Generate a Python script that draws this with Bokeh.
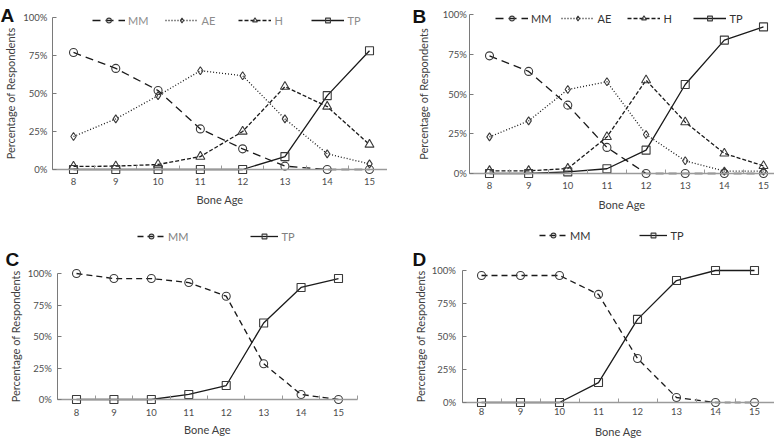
from bokeh.plotting import figure
from bokeh.models import Range1d, FixedTicker, NumeralTickFormatter, Legend, LegendItem, Label
from bokeh.layouts import column, row
from bokeh.embed import file_html
from bokeh.resources import INLINE

# ---------------- data ----------------
bone_age = [8, 9, 10, 11, 12, 13, 14, 15]
y_ticks = [0, 0.25, 0.5, 0.75, 1.0]
x_minor = [7.5, 8.5, 9.5, 10.5, 11.5, 12.5, 13.5, 14.5, 15.5]

a_mm = [0.77, 0.665, 0.52, 0.267, 0.136, 0.022, 0.0, 0.0]
a_ae = [0.217, 0.333, 0.486, 0.65, 0.617, 0.333, 0.103, 0.037]
a_h = [0.02, 0.022, 0.033, 0.085, 0.25, 0.545, 0.414, 0.164]
a_tp = [0.0, 0.0, 0.0, 0.0, 0.0, 0.085, 0.486, 0.781]

b_mm = [0.74, 0.642, 0.43, 0.164, 0.0, 0.0, 0.0, 0.0]
b_ae = [0.23, 0.331, 0.528, 0.577, 0.245, 0.08, 0.015, 0.015]
b_h = [0.017, 0.017, 0.031, 0.23, 0.587, 0.323, 0.126, 0.048]
b_tp = [0.0, 0.0, 0.01, 0.03, 0.147, 0.56, 0.839, 0.922]

c_mm = [1.0, 0.96, 0.96, 0.928, 0.82, 0.284, 0.04, 0.0]
c_tp = [0.0, 0.0, 0.0, 0.04, 0.111, 0.607, 0.889, 0.96]

d_mm = [0.962, 0.962, 0.962, 0.819, 0.333, 0.038, 0.0, 0.0]
d_tp = [0.0, 0.0, 0.0, 0.151, 0.63, 0.924, 1.0, 1.0]

x_title = "Bone Age"
y_title = "Percentage of Respondents"

FONT = "Lato"
LINE_COLOR = "#1a1a1a"
MARK_COLOR = "#3a3a3a"
AXIS_COLOR = "#9a9a9a"
YAXIS_COLOR = "#7a7a7a"


def style_for(name, big):
    if name == "MM":
        return dict(dash="8 5" if big else "6 4", marker="circle", size=8)
    if name == "AE":
        return dict(dash="1 2", marker="diamond", size=8)
    if name == "H":
        return dict(dash="4 2", marker="triangle", size=9)
    return dict(dash="solid", marker="square", size=8)


def make_panel(letter, series, W, H, px8, px15, py0, py1, x_axis_end,
               xl_stand, xt_stand, yl_stand, yt_stand,
               leg_x, leg_yc, glyph_w, spacing, leg_color,
               letter_x, letter_base, big=True):
    # the frame covers the whole canvas; axes sit at fixed data locations inside it
    ppx = (px15 - px8) / 7.0
    ppu = py0 - py1
    x_start = 8 - px8 / ppx
    x_end = 8 + (W - px8) / ppx
    y_start = -(H - py0) / ppu
    y_end = 1 + py1 / ppu
    p = figure(frame_width=W, frame_height=H, output_backend="svg", toolbar_location=None,
               x_range=Range1d(x_start, x_end), y_range=Range1d(y_start, y_end),
               min_border_left=0, min_border_right=0, min_border_top=0, min_border_bottom=0)
    p.outline_line_color = None
    p.xgrid.visible = False
    p.ygrid.visible = False
    p.background_fill_color = "white"
    p.border_fill_color = "white"

    xa = p.xaxis[0]
    xa.fixed_location = y_ticks[0]
    xa.bounds = (x_minor[0], x_axis_end)
    xa.ticker = FixedTicker(ticks=bone_age, minor_ticks=x_minor)
    xa.major_tick_in = 0
    xa.major_tick_out = 0
    xa.major_tick_line_color = None
    xa.minor_tick_in = 4
    xa.minor_tick_out = 0
    xa.minor_tick_line_color = AXIS_COLOR
    xa.axis_line_color = AXIS_COLOR
    xa.axis_line_width = 1.6
    xa.major_label_standoff = xl_stand
    xa.major_label_text_font = FONT
    xa.major_label_text_font_size = "9.5px"
    xa.major_label_text_color = "#4d4d4d"
    xa.axis_label = x_title
    xa.axis_label_standoff = xt_stand
    xa.axis_label_text_font = FONT
    xa.axis_label_text_font_size = "11px"
    xa.axis_label_text_font_style = "normal"
    xa.axis_label_text_color = "#404040"

    ya = p.yaxis[0]
    ya.fixed_location = x_minor[0]
    ya.bounds = (y_ticks[0], y_ticks[-1])
    ya.ticker = FixedTicker(ticks=y_ticks)
    ya.formatter = NumeralTickFormatter(format="0%")
    ya.major_tick_in = 4
    ya.major_tick_out = 0
    ya.minor_tick_line_color = None
    ya.major_tick_line_color = YAXIS_COLOR
    ya.axis_line_color = YAXIS_COLOR
    ya.axis_line_width = 1
    ya.major_label_standoff = yl_stand
    ya.major_label_text_font = FONT
    ya.major_label_text_font_size = "9.5px"
    ya.major_label_text_color = "#4d4d4d"
    ya.axis_label = y_title
    ya.axis_label_standoff = yt_stand
    ya.axis_label_text_font = FONT
    ya.axis_label_text_font_size = "11px"
    ya.axis_label_text_font_style = "normal"
    ya.axis_label_text_color = "#404040"

    items = []
    for name, vals in series:
        st = style_for(name, big)
        lr = p.line(bone_age, vals, line_color=LINE_COLOR, line_width=1.3, line_dash=st["dash"])
        sr = p.scatter(bone_age, vals, marker=st["marker"], size=st["size"],
                       fill_color=None, line_color=MARK_COLOR, line_width=1.1)
        items.append(LegendItem(label=name, renderers=[lr, sr]))

    lg = Legend(items=items, orientation="horizontal", location=(leg_x, H - leg_yc - 6.5),
                glyph_width=glyph_w, glyph_height=12, label_height=12, label_standoff=3,
                spacing=spacing, padding=0, margin=0, border_line_color=None,
                background_fill_alpha=0, label_text_font=FONT, label_text_font_size="11px",
                label_text_color=leg_color)
    p.add_layout(lg)

    p.add_layout(Label(x=letter_x, y=H - letter_base, x_units="screen", y_units="screen",
                       text=letter, text_font="Liberation Sans", text_font_size="19px",
                       text_font_style="bold", text_color="#111111",
                       text_align="left", text_baseline="alphabetic"))
    return p


pa = make_panel("A", [("MM", a_mm), ("AE", a_ae), ("H", a_h), ("TP", a_tp)],
                387, 219, 73, 369, 169, 17, 15.5,
                8, 5, 5, 3,
                92, 20, 33, 17, "#8c8c8c", 0, 15)
pb = make_panel("B", [("MM", b_mm), ("AE", b_ae), ("H", b_h), ("TP", b_tp)],
                387, 219, 102, 376, 173, 14, 15.28,
                8, 6, 3, 9,
                108, 18, 33, 10, "#333333", 25, 16)
pc = make_panel("C", [("MM", c_mm), ("TP", c_tp)],
                387, 220, 76, 338, 180, 54, 15.5,
                9, 4, 6, 2,
                137, 17, 28, 62, "#808080", 5, 40, big=False)
pd = make_panel("D", [("MM", d_mm), ("TP", d_tp)],
                387, 220, 94, 367, 183, 51, 15.5,
                5, 7, 6, 2,
                152, 16, 28, 49, "#333333", 25, 40, big=False)

layout = column(row(pa, pb), row(pc, pd))
open("out.html", "w").write(file_html(layout, INLINE))
